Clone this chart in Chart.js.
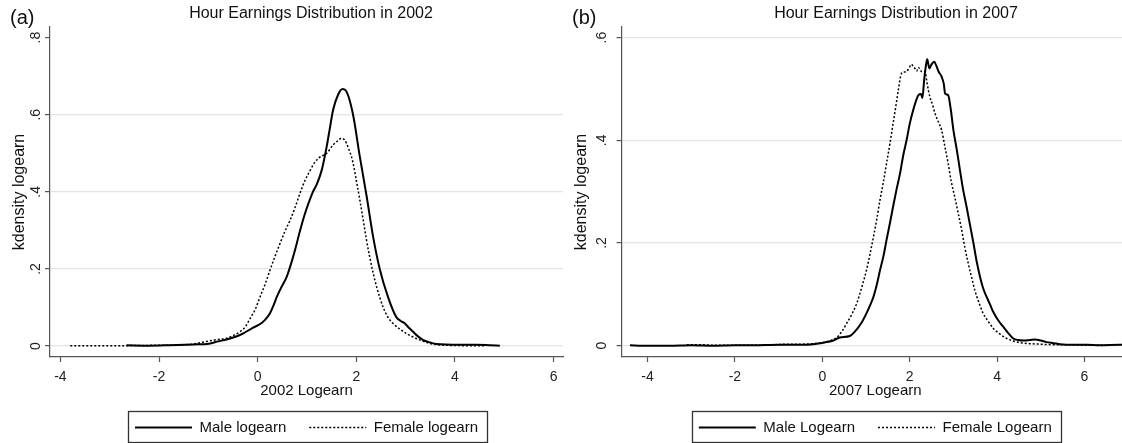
<!DOCTYPE html>
<html><head><meta charset="utf-8">
<script src="https://cdn.jsdelivr.net/npm/chart.js@4"></script>
<style>
html,body{margin:0;padding:0;background:#fff;overflow:hidden;width:1122px;height:443px;}
#c1{position:absolute;left:0;top:0;}
#c2{position:absolute;left:560px;top:0;}
</style></head><body>
<canvas id="c1" width="622" height="445"></canvas>
<canvas id="c2" width="672" height="445"></canvas>
<script>
// ---------- data ----------
const male2002X = [-2.66,-2.2,-1.8,-1.31,-0.99,-0.8,-0.63,-0.45,-0.29,-0.1,0.05,0.15,0.25,0.32,0.39,0.49,0.59,0.72,0.80,0.86,0.95,1.03,1.12,1.20,1.30,1.40,1.47,1.53,1.63,1.72,1.78,1.84,1.94,2.07,2.21,2.34,2.48,2.64,2.81,2.90,2.98,3.06,3.15,3.25,3.35,3.5,3.62,4.09,4.43,4.7,4.91];
const male2002Y = [0.002,0.001,0.002,0.004,0.006,0.012,0.017,0.024,0.033,0.047,0.057,0.068,0.085,0.105,0.128,0.155,0.18,0.232,0.27,0.30,0.34,0.37,0.40,0.42,0.457,0.518,0.57,0.613,0.652,0.667,0.664,0.648,0.596,0.492,0.388,0.284,0.197,0.128,0.075,0.065,0.059,0.048,0.037,0.025,0.016,0.009,0.005,0.003,0.003,0.002,0.001];
const female2002X = [-3.8,-3.0,-2.66,-2.0,-1.5,-1.31,-0.99,-0.8,-0.63,-0.5,-0.36,-0.25,-0.16,-0.05,0.05,0.15,0.25,0.35,0.45,0.55,0.66,0.76,0.86,0.96,1.07,1.15,1.24,1.32,1.40,1.53,1.62,1.70,1.76,1.80,1.85,1.90,1.95,2.0,2.07,2.14,2.20,2.27,2.34,2.41,2.54,2.64,2.74,2.87,3.01,3.14,3.28,3.41,3.55,3.82,4.2,4.6];
const female2002Y = [0.001,0.001,0.001,0.002,0.003,0.005,0.013,0.017,0.02,0.027,0.037,0.05,0.07,0.095,0.128,0.16,0.197,0.232,0.265,0.297,0.327,0.36,0.397,0.43,0.457,0.475,0.488,0.494,0.50,0.522,0.532,0.539,0.535,0.526,0.51,0.492,0.465,0.43,0.38,0.327,0.28,0.232,0.19,0.154,0.102,0.075,0.059,0.045,0.033,0.024,0.016,0.01,0.005,0.002,0.001,0.001];

const male2007X = [-4.4,-4.1,-3.5,-3.0,-2.5,-2.0,-1.58,-1.0,-0.43,-0.05,0.25,0.40,0.63,0.78,0.90,1.01,1.09,1.17,1.25,1.32,1.40,1.47,1.55,1.62,1.70,1.78,1.85,1.93,2.00,2.08,2.14,2.20,2.26,2.29,2.33,2.37,2.40,2.45,2.50,2.56,2.61,2.66,2.73,2.78,2.81,2.88,2.94,3.0,3.08,3.15,3.22,3.30,3.38,3.46,3.53,3.61,3.68,3.76,3.84,3.91,4.02,4.14,4.25,4.37,4.48,4.60,4.75,4.87,5.0,5.13,5.3,5.44,5.8,6.05,6.35,6.81,7.0];
const male2007Y = [0.001,0.0,0.0,0.001,0.0,0.001,0.001,0.002,0.002,0.005,0.01,0.016,0.019,0.031,0.045,0.063,0.078,0.095,0.12,0.147,0.175,0.206,0.24,0.271,0.305,0.336,0.37,0.401,0.432,0.459,0.476,0.488,0.49,0.482,0.517,0.545,0.558,0.54,0.548,0.553,0.545,0.534,0.524,0.51,0.491,0.488,0.46,0.42,0.38,0.342,0.305,0.271,0.235,0.199,0.165,0.134,0.112,0.095,0.08,0.066,0.05,0.037,0.025,0.014,0.011,0.010,0.011,0.012,0.01,0.007,0.005,0.003,0.002,0.002,0.001,0.002,0.002];
const female2007X = [-3.1,-2.8,-2.5,-2.3,-2.0,-1.5,-1.08,-0.8,-0.55,-0.2,0.11,0.33,0.45,0.56,0.68,0.79,0.90,1.01,1.09,1.17,1.25,1.32,1.40,1.47,1.55,1.62,1.68,1.74,1.81,1.87,1.93,1.98,2.04,2.08,2.12,2.16,2.20,2.27,2.35,2.40,2.46,2.52,2.58,2.66,2.73,2.80,2.88,2.95,3.03,3.11,3.19,3.26,3.34,3.42,3.49,3.58,3.68,3.80,3.91,4.06,4.22,4.37,4.52,4.75,4.98,5.29,5.6,6.0,6.5];
const female2007Y = [0.002,0.002,0.001,0.001,0.001,0.001,0.002,0.003,0.003,0.004,0.008,0.016,0.028,0.044,0.062,0.083,0.113,0.147,0.178,0.212,0.248,0.284,0.32,0.355,0.395,0.433,0.465,0.498,0.53,0.533,0.534,0.54,0.548,0.544,0.54,0.535,0.542,0.534,0.534,0.51,0.485,0.47,0.452,0.435,0.42,0.39,0.355,0.32,0.29,0.258,0.225,0.192,0.16,0.132,0.108,0.085,0.063,0.047,0.034,0.023,0.014,0.009,0.006,0.004,0.003,0.002,0.002,0.001,0.001];

const xTicks = [-4,-2,0,2,4,6];
const xTickLabels = ['-4','-2','0','2','4','6'];
const yTicks2002 = [0,0.2,0.4,0.6,0.8];
const yTickLabels2002 = ['0','.2','.4','.6','.8'];
const yTicks2007 = [0,0.2,0.4,0.6];
const yTickLabels2007 = ['0','.2','.4','.6'];

// ---------- drawing ----------
const F = "'Liberation Sans', Arial, sans-serif";
const AX = '#555';

const decor = {
  id: 'panelDecor',
  afterDraw(chart, args, opts) {
    const ctx = chart.ctx;
    ctx.save();
    ctx.font = '20px ' + F;
    ctx.fillStyle = '#111';
    ctx.textBaseline = 'middle';
    ctx.textAlign = 'left';
    ctx.fillText(opts.tag, opts.tagX, 18);
    const hb = chart.legend && chart.legend.legendHitBoxes;
    if (hb && hb.length) {
      const a = hb[0], b = hb[hb.length - 1];
      const cy = a.top + a.height / 2;
      ctx.strokeStyle = '#333';
      ctx.lineWidth = 1.3;
      ctx.strokeRect(Math.round(a.left - 7) + 0.5, Math.round(cy - 17) + 0.5,
        Math.round(b.left + b.width - a.left + 16), 31);
    }
    ctx.restore();
  }
};

function pts(xs, ys) { return xs.map((x, i) => ({x: x, y: ys[i]})); }

function legendLabels(chart) {
  const items = Chart.defaults.plugins.legend.labels.generateLabels(chart);
  items.forEach(it => {
    const ds = chart.data.datasets[it.datasetIndex];
    it.lineDash = ds.borderDash || [];
    it.lineWidth = ds.borderWidth;
    it.strokeStyle = ds.borderColor;
    it.pointStyle = 'line';
  });
  return items;
}

function panel(id, o) {
  return new Chart(document.getElementById(id), {
    type: 'line',
    data: {
      datasets: [
        {label: o.maleLabel, data: pts(o.mx, o.my), borderColor: '#000', borderWidth: 2,
         pointRadius: 0, cubicInterpolationMode: 'monotone', fill: false},
        {label: o.femaleLabel, data: pts(o.fx, o.fy), borderColor: '#000', borderWidth: 1.5,
         borderDash: [2, 2], pointRadius: 0, cubicInterpolationMode: 'monotone', fill: false}
      ]
    },
    options: {
      responsive: false, animation: false, devicePixelRatio: 1,
      layout: {padding: 0},
      plugins: {
        title: {display: true, text: o.title, color: '#111',
          font: {family: F, size: 16, weight: 'normal', lineHeight: 1.2},
          padding: {top: 4.4, bottom: 3.4}},
        legend: {display: true, position: 'bottom', fullSize: false,
          labels: {usePointStyle: true, pointStyle: 'line', pointStyleWidth: 57, boxHeight: 15,
            color: '#111', font: {family: F, size: 15}, padding: 23,
            generateLabels: legendLabels}},
        tooltip: {enabled: false},
        panelDecor: {tag: o.tag, tagX: o.tagX}
      },
      scales: {
        x: {type: 'linear', position: 'bottom', min: o.xmin, max: o.xmax,
          afterBuildTicks: s => { s.ticks = xTicks.map(v => ({value: v})); },
          afterFit: s => { s.height = 40; },
          ticks: {autoSkip: false, maxRotation: 0, minRotation: 0, padding: 7, color: '#222',
            font: {family: F, size: 14}, callback: (v, i) => xTickLabels[i]},
          grid: {drawOnChartArea: false, drawTicks: true, tickLength: 5, tickColor: AX, tickWidth: 1.2},
          border: {display: true, color: AX, width: 1.2},
          title: {display: true, text: o.xTitle, color: '#111',
            font: {family: F, size: 15, lineHeight: 1.2}, padding: {top: 0, bottom: -3}}},
        y: {type: 'linear', position: 'left', min: o.ymin, max: o.ymax,
          afterBuildTicks: s => { s.ticks = o.yt.map(v => ({value: v})); },
          afterFit: s => { s.width = o.yw; },
          ticks: {autoSkip: false, minRotation: 90, maxRotation: 90, crossAlign: 'center',
            padding: o.ytp, color: '#222', font: {family: F, size: 14},
            callback: (v, i) => o.ytl[i]},
          grid: {color: c => (o.noGrid.indexOf(c.tick && c.tick.value) >= 0 ? 'rgba(0,0,0,0)' : '#e4e4e4'),
            lineWidth: 1.2, drawTicks: true, tickLength: 5, tickColor: AX, tickWidth: 1.2},
          border: {display: true, color: AX, width: 1.2},
          title: {display: true, text: 'kdensity logearn', color: '#111',
            font: {family: F, size: 16, lineHeight: 1.2}, padding: {top: o.ytitlePad, bottom: 0}}},
        yRight: {type: 'linear', axis: 'y', position: 'right', display: true,
          afterFit: s => { s.width = o.rw; },
          ticks: {display: false}, grid: {display: false}, border: {display: false},
          title: {display: false}}
      }
    },
    plugins: [decor]
  });
}

panel('c1', {
  title: 'Hour Earnings Distribution in 2002', tag: '(a)', tagX: 10,
  maleLabel: 'Male logearn', femaleLabel: 'Female logearn', xTitle: '2002 Logearn',
  mx: male2002X, my: male2002Y, fx: female2002X, fy: female2002Y,
  xmin: -4.21, xmax: 6.19, ymin: -0.0285, ymax: 0.8277,
  yt: yTicks2002, ytl: yTickLabels2002, noGrid: [0.8],
  yw: 50, ytp: 3.2, ytitlePad: 9.5, rw: 59
});
panel('c2', {
  title: 'Hour Earnings Distribution in 2007', tag: '(b)', tagX: 12,
  maleLabel: 'Male Logearn', femaleLabel: 'Female Logearn', xTitle: '2007 Logearn',
  mx: male2007X, my: male2007Y, fx: female2007X, fy: female2007Y,
  xmin: -4.593, xmax: 7.018, ymin: -0.022, ymax: 0.6207,
  yt: yTicks2007, ytl: yTickLabels2007, noGrid: [],
  yw: 61.6, ytp: 8.8, ytitlePad: 11.5, rw: 103
});
</script>
</body></html>
